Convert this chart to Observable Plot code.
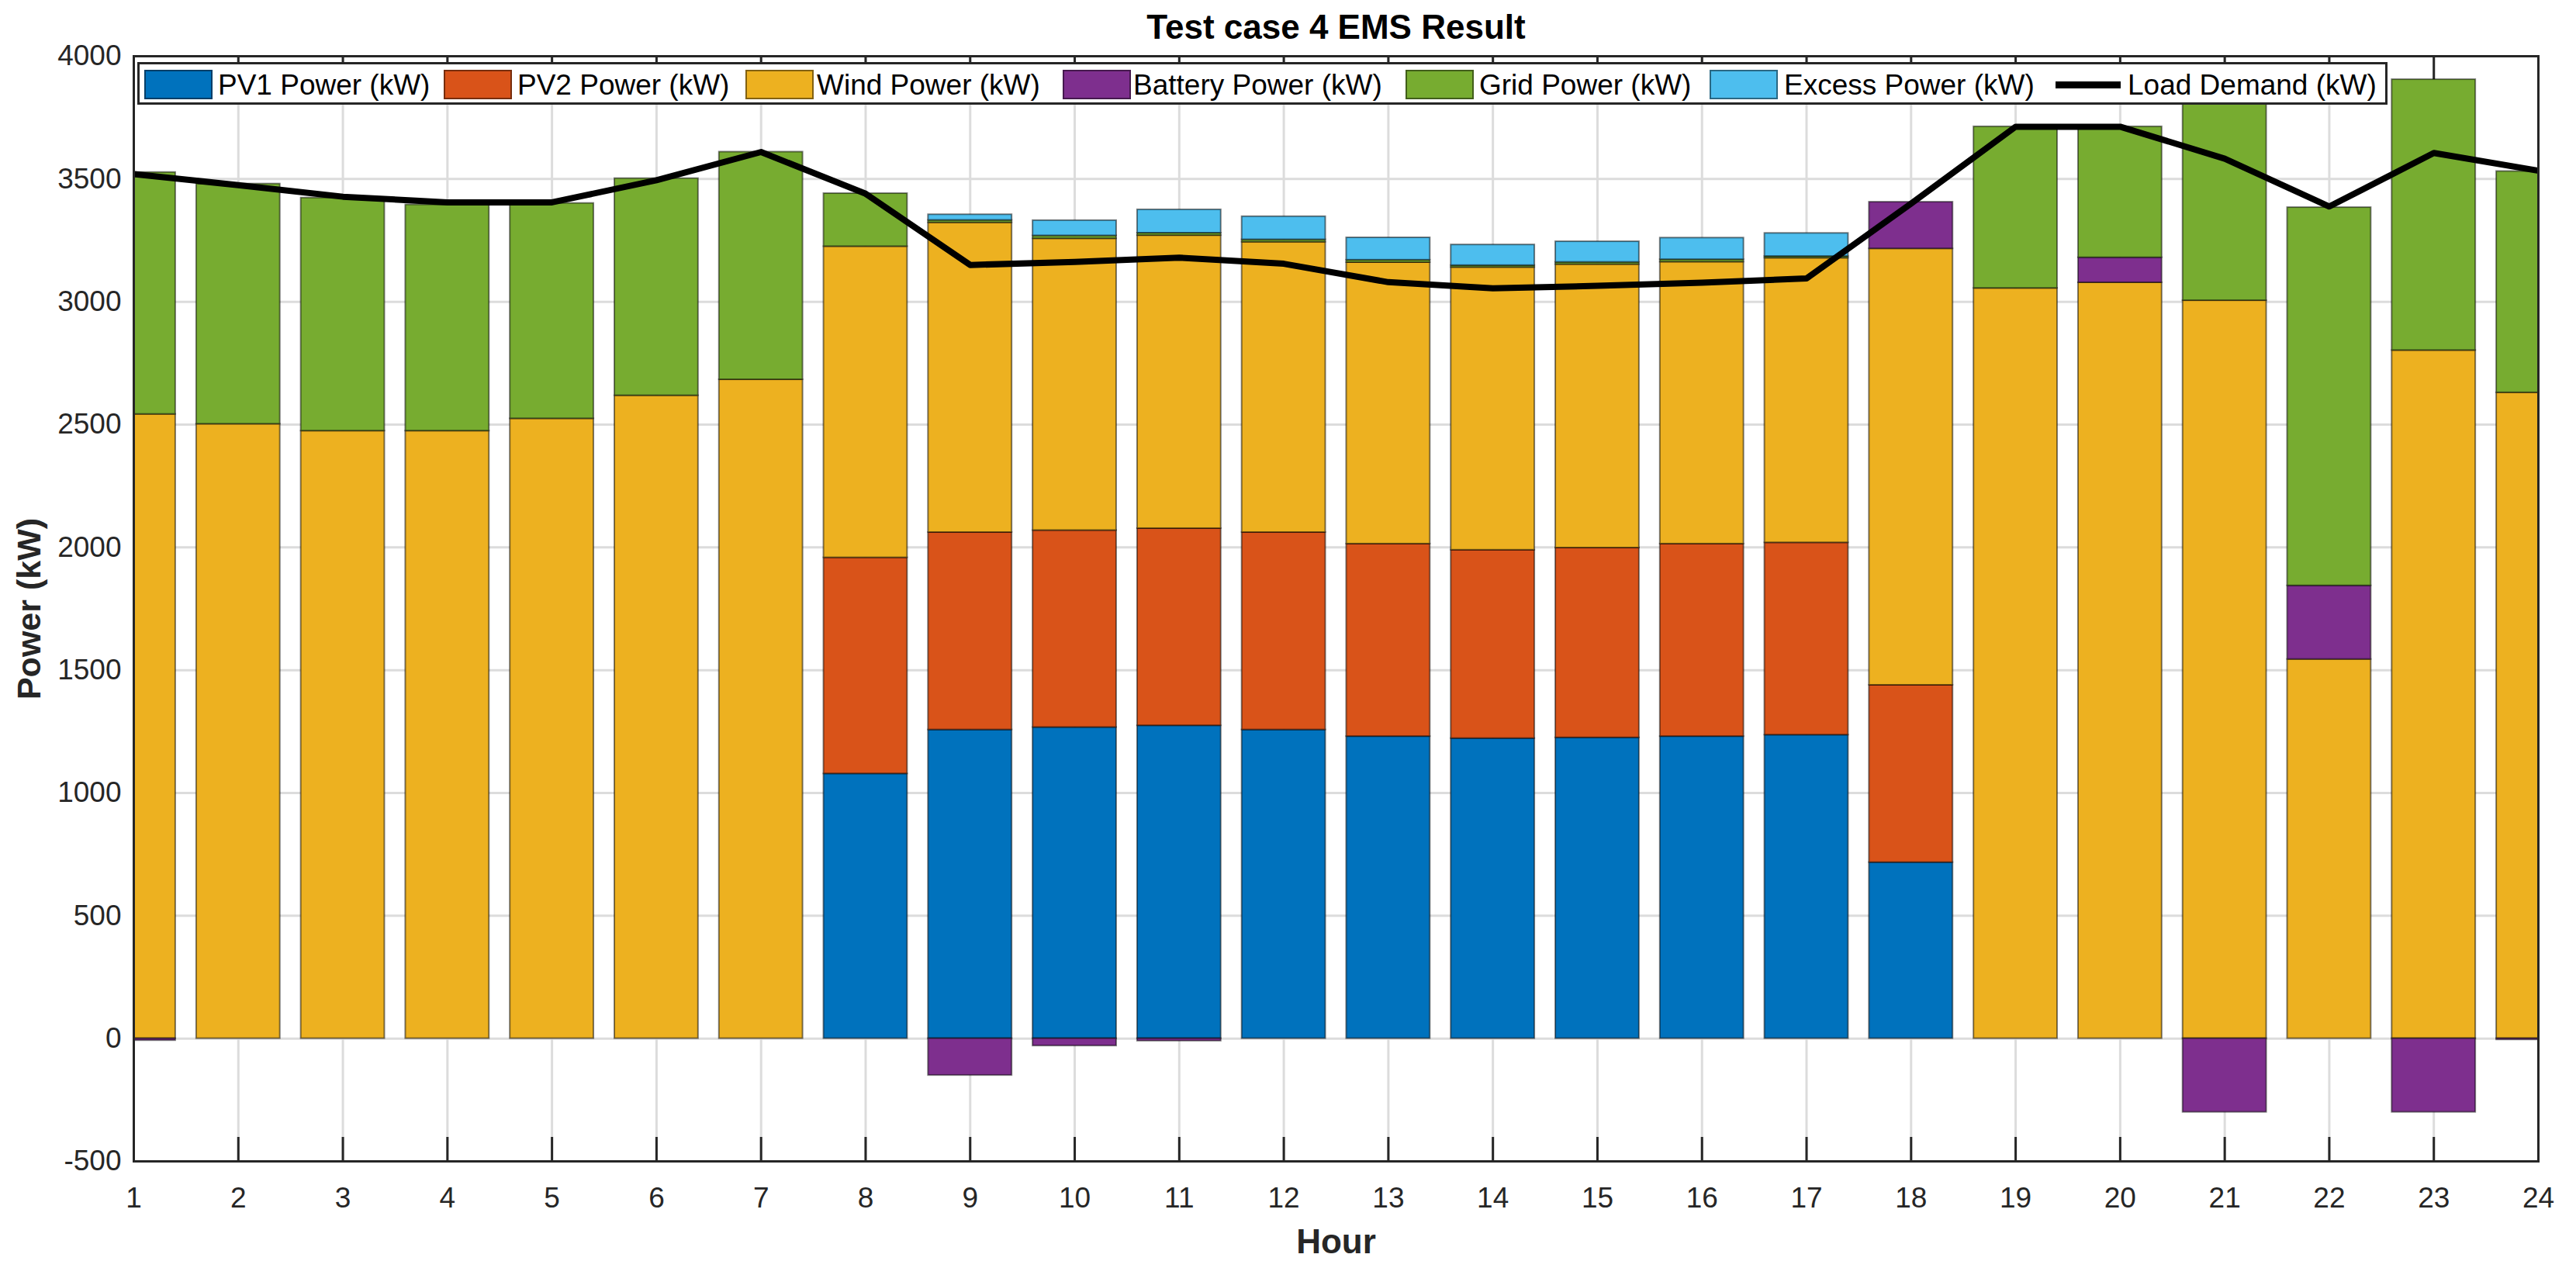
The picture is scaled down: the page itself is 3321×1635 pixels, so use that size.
<!DOCTYPE html>
<html>
<head>
<meta charset="utf-8">
<script src="https://cdn.jsdelivr.net/npm/d3@7"></script>
<script src="https://cdn.jsdelivr.net/npm/@observablehq/plot@0.6"></script>
<style>
html, body { margin: 0; padding: 0; background: #fff; }
#wrap { position: relative; width: 3321px; height: 1635px; overflow: hidden; font-family: "Liberation Sans", Arial, Helvetica, sans-serif; }
#legend { position: absolute; left: 177px; top: 80px; width: 2895px; height: 49px; border: 3px solid #262626; background: #fff; }
.sw { position: absolute; top: 90px; width: 84px; height: 34px; border: 2px solid rgba(0,0,0,0.45); }
.ln { position: absolute; top: 105px; height: 9px; background: #000; }
.lt { position: absolute; top: 88px; height: 44px; line-height: 44px; font-size: 37px; color: #000; white-space: nowrap; }
</style>
</head>
<body>
<div id="wrap"></div>
<script>
// ---- data ----
const hours = [1,2,3,4,5,6,7,8,9,10,11,12,13,14,15,16,17,18,19,20,21,22,23,24];
const yTicks = [-500,0,500,1000,1500,2000,2500,3000,3500,4000];
const pv1     = [0,0,0,0,0,0,0,1078,1257,1267,1274,1257,1230,1222,1225,1230,1236,717,0,0,0,0,0,0];
const pv2     = [0,0,0,0,0,0,0,880,804,802,803,804,784,767,773,784,783,722,0,0,0,0,0,0];
const wind    = [2542,2502,2474,2474,2524,2618,2683,1267,1261,1188,1193,1182,1146,1151,1154,1148,1159,1777,3055,3078,3005,1544,2802,2630];
const battery = [-8,0,0,0,0,0,0,0,-150,-30,-10,0,0,0,0,0,0,190,0,102,-300,300,-300,-5];
const grid    = [985,978,949,921,877,884,927,216,10,12,10,10,10,8,9,10,7,0,658,533,878,1540,1103,901];
const excess  = [0,0,0,0,0,0,0,0,23,62,95,94,91,84,84,88,94,0,0,0,0,0,0,0];
const load    = [3520,3475,3428,3405,3405,3495,3610,3440,3150,3162,3180,3155,3080,3055,3065,3078,3095,3400,3713,3713,3583,3388,3606,3534];
const seriesNames = ["PV1 Power (kW)","PV2 Power (kW)","Wind Power (kW)","Battery Power (kW)","Grid Power (kW)","Excess Power (kW)"];
const lineName = "Load Demand (kW)";
const titleText = "Test case 4 EMS Result";
const xLabel = "Hour";
const yLabel = "Power (kW)";

// ---- styles / layout ----
const seriesColors = ["#0072BD","#D95319","#EDB120","#7E2F8E","#77AC30","#4DBEEE"];
const W = 3321, H = 1635, mL = 172, mR = 49, mT = 72, mB = 138;
const frameH = H - mT - mB;
const tickLen = 31;
const halfBar = 0.4;
const font = '"Liberation Sans", Arial, Helvetica, sans-serif';

const seriesValues = [pv1, pv2, wind, battery, grid, excess];
const bars = seriesNames.flatMap((s, i) => hours.map((h, j) => ({hour: h, series: s, value: seriesValues[i][j]})));
const loadData = hours.map((h, j) => ({hour: h, load: load[j]}));

const chart = Plot.plot({
  width: W, height: H,
  marginLeft: mL, marginRight: mR, marginTop: mT, marginBottom: mB,
  style: {fontFamily: font, fontSize: "37px", color: "#262626", background: "#fff"},
  x: {domain: [1, 24], ticks: hours, tickSize: 0, tickPadding: 33, tickFormat: d => String(d), label: null},
  y: {domain: [-500, 4000], ticks: yTicks, tickSize: 0, tickPadding: 16, tickFormat: d => String(d), label: null},
  color: {domain: seriesNames, range: seriesColors},
  marks: [
    Plot.ruleY(yTicks, {y: d => d, stroke: "#dcdcdc", strokeWidth: 3}),
    Plot.ruleX(hours, {x: d => d, stroke: "#dcdcdc", strokeWidth: 3}),
    Plot.ruleX(hours, {x: d => d, insetTop: frameH - tickLen, stroke: "#262626", strokeWidth: 3}),
    Plot.ruleX(hours, {x: d => d, insetBottom: frameH - tickLen, stroke: "#262626", strokeWidth: 3}),
    Plot.rectY(bars, {
      x1: d => d.hour - halfBar, x2: d => d.hour + halfBar,
      y: "value", fill: "series",
      stroke: "#000", strokeOpacity: 0.5, strokeWidth: 2, clip: true
    }),
    Plot.line(loadData, {x: "hour", y: "load", stroke: "#000", strokeWidth: 8, strokeLinejoin: "round", clip: true}),
    Plot.frame({stroke: "#262626", strokeWidth: 3}),
    Plot.text([titleText], {text: d => d, frameAnchor: "top", textAnchor: "middle", lineAnchor: "middle", dy: -37, fontSize: 44, fontWeight: "bold", fill: "#000"}),
    Plot.text([xLabel], {text: d => d, frameAnchor: "bottom", textAnchor: "middle", lineAnchor: "middle", dy: 104, fontSize: 44, fontWeight: "bold", fill: "#262626"}),
    Plot.text([yLabel], {text: d => d, frameAnchor: "left", textAnchor: "middle", lineAnchor: "middle", dx: -134, rotate: -90, fontSize: 43, fontWeight: "bold", fill: "#262626"})
  ]
});

const wrap = document.getElementById("wrap");
wrap.appendChild(chart);

// ---- legend (HTML overlay inside the axes, as in the reference) ----
const legend = document.createElement("div");
legend.id = "legend";
wrap.appendChild(legend);
const swatchX = [186, 572, 961, 1370, 1812, 2204];
const textX   = [281, 667, 1053, 1461, 1907, 2300];
seriesNames.forEach((name, i) => {
  const sw = document.createElement("div");
  sw.className = "sw";
  sw.style.left = swatchX[i] + "px";
  sw.style.background = seriesColors[i];
  wrap.appendChild(sw);
  const t = document.createElement("div");
  t.className = "lt";
  t.style.left = textX[i] + "px";
  t.textContent = name;
  wrap.appendChild(t);
});
const ln = document.createElement("div");
ln.className = "ln";
ln.style.left = "2650px";
ln.style.width = "84px";
wrap.appendChild(ln);
const lt = document.createElement("div");
lt.className = "lt";
lt.style.left = "2743px";
lt.textContent = lineName;
wrap.appendChild(lt);
</script>
</body>
</html>
